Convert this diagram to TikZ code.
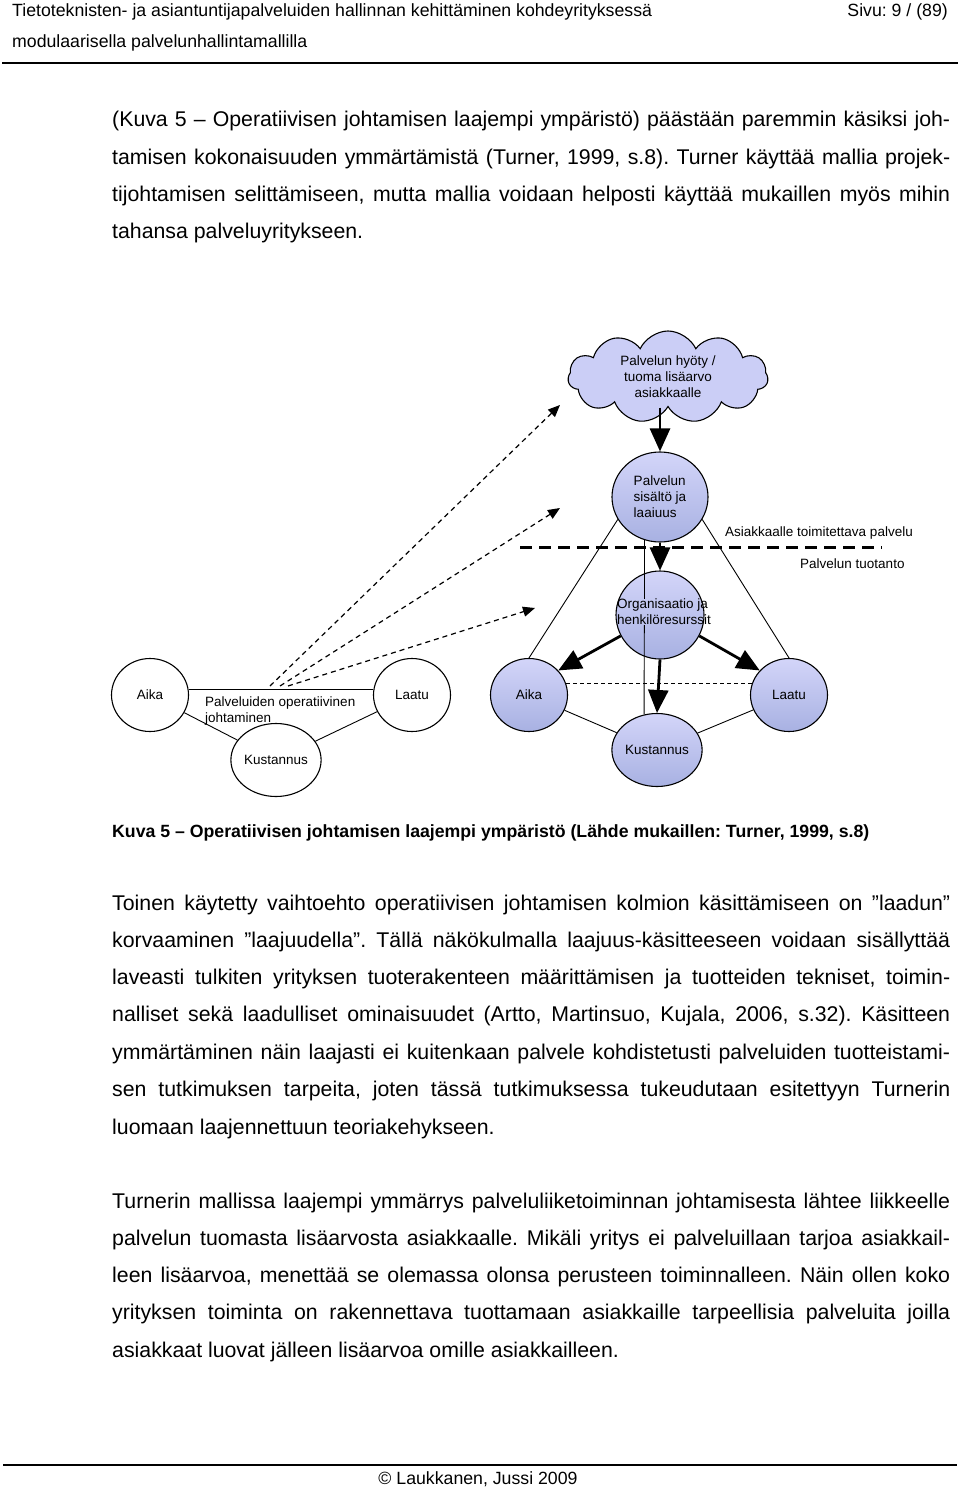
\documentclass[tikz,border=0pt]{standalone}
\usepackage{fontspec}
\setmainfont{Liberation Sans}
\usetikzlibrary{shapes.geometric,shapes.symbols,arrows.meta}

\definecolor{circ-top}{HTML}{D3D5F9}
\definecolor{circ-bottom}{HTML}{A8B1E2}
\definecolor{cloud-fill}{HTML}{CBCEF6}

\newcommand{\jline}[1]{\makebox[838pt][s]{#1}}
\frenchspacing

\begin{document}
\begin{tikzpicture}[x=1pt, y=-1pt]
            \tikzset{
                body-text/.style = {inner sep=0, anchor=base west, font=\fontsize{21.3}{25}\selectfont},
                head-text/.style = {inner sep=0, font=\fontsize{17.7}{21}\selectfont},
                small-label/.style = {inner sep=0, font=\fontsize{13.5}{16}\selectfont},
                ring/.style = {ellipse, draw, line width=1.1pt, fill=white,
                    minimum width=77pt, minimum height=73pt, inner sep=0,
                    font=\fontsize{13.5}{16}\selectfont},
                blue-ring/.style = {ring, top color=circ-top, bottom color=circ-bottom},
                thin-line/.style = {line width=0.9pt},
                heavy-arrow/.style = {line width=2.8pt, -{Triangle[width=20pt, length=23pt]}},
                dash-arrow/.style = {line width=1.2pt, dash pattern=on 5pt off 4pt,
                    -{Triangle[width=10pt, length=12pt]}}
            }

            \useasboundingbox (0, 0) rectangle (960, 1487);
            \fill[white] (0, 0) rectangle (960, 1487);

            % page header and footer
            \node[head-text, anchor=base west] (head1) at (12, 17)
                {Tietoteknisten- ja asiantuntijapalveluiden hallinnan kehittäminen kohdeyrityksessä};
            \node[head-text, anchor=base east] (page) at (948, 17) {Sivu: 9 / (89)};
            \node[head-text, anchor=base west] (head2) at (12, 48) {modulaarisella palvelunhallintamallilla};
            \draw[line width=1.5pt] (2, 63) -- (958, 63);
            \draw[line width=1.2pt] (3, 1465) -- (957, 1465);
            \node[head-text, anchor=base] (foot) at (478, 1484) {© Laukkanen, Jussi 2009};

            % body text
            \foreach \txt [count=\i from 0] in {
                {(Kuva 5 – Operatiivisen johtamisen laajempi ympäristö) päästään paremmin käsiksi joh-},
                {tamisen kokonaisuuden ymmärtämistä (Turner, 1999, s.8). Turner käyttää mallia projek-},
                {tijohtamisen selittämiseen, mutta mallia voidaan helposti käyttää mukaillen myös mihin}}
                \node[body-text] at (112, 127 + 37.3*\i) {\jline{\txt}};
            \node[body-text] at (112, 239) {tahansa palveluyritykseen.};

            \node[inner sep=0, anchor=base west, font=\bfseries\fontsize{17.7}{21}\selectfont] (caption) at (112, 837)
                {Kuva 5 – Operatiivisen johtamisen laajempi ympäristö (Lähde mukaillen: Turner, 1999, s.8)};

            \foreach \txt [count=\i from 0] in {
                {Toinen käytetty vaihtoehto operatiivisen johtamisen kolmion käsittämiseen on ”laadun”},
                {korvaaminen ”laajuudella”. Tällä näkökulmalla laajuus-käsitteeseen voidaan sisällyttää},
                {laveasti tulkiten yrityksen tuoterakenteen määrittämisen ja tuotteiden tekniset, toimin-},
                {nalliset sekä laadulliset ominaisuudet (Artto, Martinsuo, Kujala, 2006, s.32). Käsitteen},
                {ymmärtäminen näin laajasti ei kuitenkaan palvele kohdistetusti palveluiden tuotteistami-},
                {sen tutkimuksen tarpeita, joten tässä tutkimuksessa tukeudutaan esitettyyn Turnerin}}
                \node[body-text] at (112, 910 + 37.3*\i) {\jline{\txt}};
            \node[body-text] at (112, 1134) {luomaan laajennettuun teoriakehykseen.};

            \foreach \txt [count=\i from 0] in {
                {Turnerin mallissa laajempi ymmärrys palveluliiketoiminnan johtamisesta lähtee liikkeelle},
                {palvelun tuomasta lisäarvosta asiakkaalle. Mikäli yritys ei palveluillaan tarjoa asiakkail-},
                {leen lisäarvoa, menettää se olemassa olonsa perusteen toiminnalleen. Näin ollen koko},
                {yrityksen toiminta on rakennettava tuottamaan asiakkaille tarpeellisia palveluita joilla}}
                \node[body-text] at (112, 1208 + 37.3*\i) {\jline{\txt}};
            \node[body-text] at (112, 1357) {asiakkaat luovat jälleen lisäarvoa omille asiakkailleen.};

            % wider model on the right
            \node[cloud, cloud puffs=11, cloud puff arc=130, cloud ignores aspect, draw, line width=1.1pt,
                fill=cloud-fill, minimum width=200pt, minimum height=92pt, inner sep=0, align=center,
                font=\fontsize{13.5}{16}\selectfont] (hyoty) at (668, 377)
                {Palvelun hyöty /\\tuoma lisäarvo\\asiakkaalle};
            \node[blue-ring, minimum width=96pt, minimum height=90pt, align=left] (sisalto) at (660, 497)
                {Palvelun\\sisältö ja\\laaiuus};
            \node[blue-ring, minimum width=88pt, minimum height=88pt] (org) at (660, 615) {};
            \node[small-label, align=left, anchor=west] (org-text) at (617, 612)
                {Organisaatio ja\\henkilöresurssit};
            \node[blue-ring] (aika-r) at (529, 695) {Aika};
            \node[blue-ring] (laatu-r) at (789, 695) {Laatu};
            \node[blue-ring] (kust-r) at (657, 750) {Kustannus};

            \draw[line width=3pt, dash pattern=on 12pt off 7pt] (520, 547) -- (882, 547);
            \node[small-label, anchor=base west] (toimitus) at (725, 536) {Asiakkaalle toimitettava palvelu};
            \node[small-label, anchor=base west] (tuotanto) at (800, 568) {Palvelun tuotanto};

            \draw[thin-line] (sisalto.208) -- (aika-r.north);
            \draw[thin-line] (sisalto.332) -- (laatu-r.north);
            \draw[thin-line] (sisalto.250) -- (org-text.north -| sisalto.250);
            \draw[thin-line] (org-text.south -| sisalto.250) -- (kust-r.110);
            \draw[thin-line] (aika-r) -- (kust-r);
            \draw[thin-line] (laatu-r) -- (kust-r);
            \draw[thin-line, dash pattern=on 4pt off 3pt] (aika-r.17) -- (laatu-r.163);

            \draw[heavy-arrow] (hyoty.south -| sisalto.north) -- (sisalto.north);
            \draw[heavy-arrow] (sisalto.south) -- (org.north);
            \draw[heavy-arrow] (org.208) -- (aika-r.40);
            \draw[heavy-arrow] (org.332) -- (laatu-r.140);
            \draw[heavy-arrow] (org.south) -- (kust-r.north);

            % plain triangle on the left
            \node[ring] (aika-l) at (150, 695) {Aika};
            \node[ring] (laatu-l) at (412, 695) {Laatu};
            \node[small-label, align=left, anchor=north west] (johto) at (205, 697)
                {Palveluiden operatiivinen\\johtaminen};
            \node[ring] (kust-l) at (276, 760) {Kustannus};
            \draw[thin-line] (aika-l.8) -- (laatu-l.172);
            \draw[thin-line] (aika-l) -- (kust-l);
            \draw[thin-line] (laatu-l) -- (kust-l);

            % links from the left triangle to the wider model
            \coordinate (from-a) at (270, 686);
            \coordinate (from-b) at (280, 686);
            \coordinate (from-c) at (288, 686);
            \coordinate (to-a) at (560, 405);
            \coordinate (to-b) at (560, 508);
            \coordinate (to-c) at (535, 608);
            \draw[dash-arrow] (from-a) -- (to-a);
            \draw[dash-arrow] (from-b) -- (to-b);
            \draw[dash-arrow] (from-c) -- (to-c);
        \end{tikzpicture}
\end{document}
